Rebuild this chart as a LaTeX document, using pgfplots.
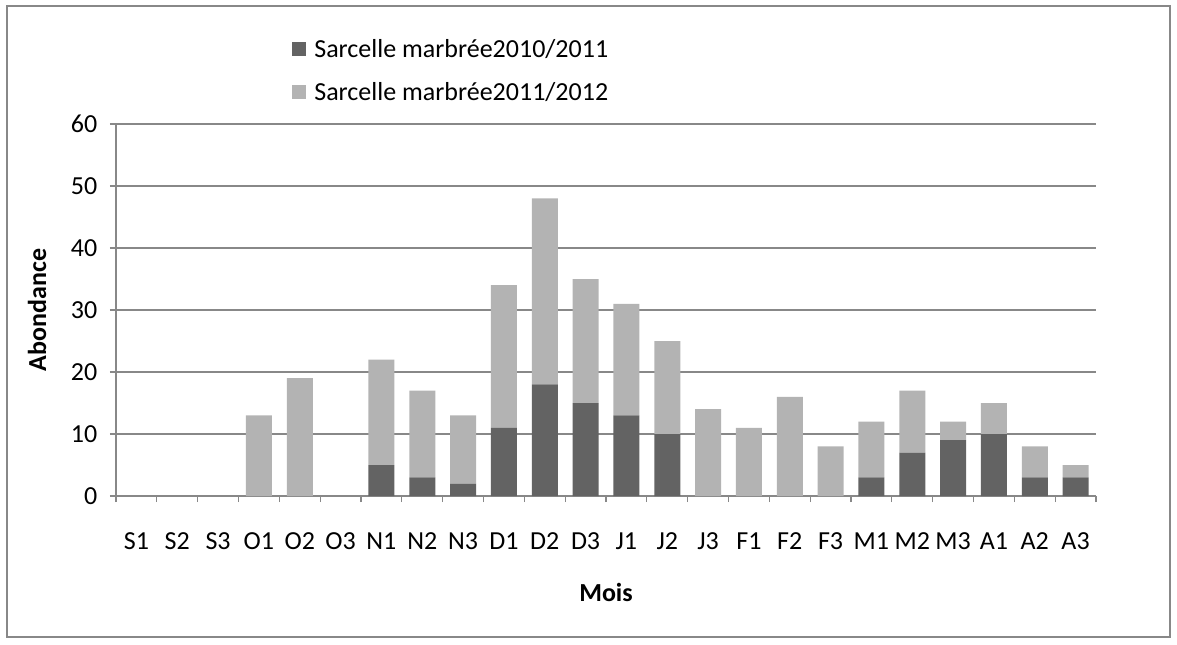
\documentclass[border=0pt]{standalone}
\usepackage{pgfplots}
\pgfplotsset{compat=1.18}
\usepackage{pgfplotstable}
\usepackage{fontspec}
\setmainfont{Carlito}
\definecolor{darkbar}{HTML}{636363}
\definecolor{lightbar}{HTML}{B3B3B3}
\definecolor{gridc}{HTML}{888888}
\pgfplotstableread{
x a b
0 0 0
1 0 0
2 0 0
3 0 13
4 0 19
5 0 0
6 5 17
7 3 14
8 2 11
9 11 23
10 18 30
11 15 20
12 13 18
13 10 15
14 0 14
15 0 11
16 0 16
17 0 8
18 3 9
19 7 10
20 9 3
21 10 5
22 3 5
23 3 2
}\data
\begin{document}
\begin{tikzpicture}
\useasboundingbox (0,0) rectangle (882.75pt,483pt);
\draw[color=gridc, line width=1.2pt] (5.25pt,5.25pt) rectangle (877.5pt,478.5pt);
\begin{axis}[
  at={(87pt,111pt)}, anchor=south west,
  scale only axis, width=735pt, height=279pt,
  ybar stacked, bar width=19.5pt,
  xmin=-0.5, xmax=23.5, ymin=0, ymax=60,
  ytick={0,10,...,60},
  xtick={-0.5,0.5,...,23.5}, xticklabels={},
  extra x ticks={0,...,23},
  extra x tick labels={S1,S2,S3,O1,O2,O3,N1,N2,N3,D1,D2,D3,J1,J2,J3,F1,F2,F3,M1,M2,M3,A1,A2,A3},
  extra x tick style={major tick length=0pt, grid=none, xticklabel style={yshift=-24pt}},
  axis x line*=bottom, axis y line*=left,
  axis line style={gridc, line width=0.9pt},
  tick style={gridc, line width=0.9pt},
  tick align=outside, major tick length=4.5pt,
  ymajorgrids, grid style={gridc, line width=0.9pt},
  /pgf/number format/assume math mode=true,
  tick label style={font=\fontsize{19.5}{23}\selectfont, black},
  yticklabel style={xshift=-6pt},
  xlabel={Mois}, ylabel={Abondance},
  label style={font=\fontsize{19.5}{23}\selectfont\bfseries},
  xlabel style={at={(axis description cs:0.5,-0.258)}, anchor=center},
  ylabel style={at={(axis description cs:-0.0806,0.5)}, anchor=center, rotate=0},
  legend style={at={(axis description cs:0.179,1.051)}, anchor=south west, draw=none,
    font=\fontsize{19.5}{23}\selectfont, row sep=13pt, fill=none, inner sep=0pt,
    /tikz/every even column/.append style={column sep=0pt}},
  legend cell align=left,
  legend image code/.code={\fill[#1] (0pt,-5.25pt) rectangle (10.5pt,5.25pt); \path (15pt,0pt);},
  clip=false,
]
\addplot[fill=darkbar, draw=none] table[x=x, y=a] {\data};
\addlegendentry{Sarcelle marbrée2010/2011}
\addplot[fill=lightbar, draw=none] table[x=x, y=b] {\data};
\addlegendentry{Sarcelle marbrée2011/2012}
\end{axis}
\end{tikzpicture}
\end{document}
